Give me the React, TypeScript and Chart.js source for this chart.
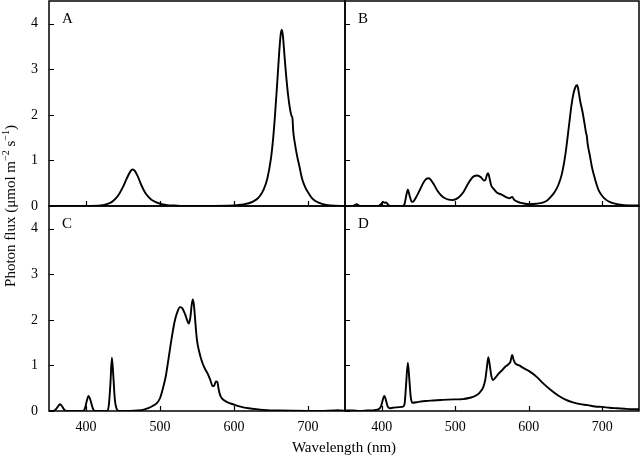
import React, { useEffect, useRef } from "react";
import { Chart, registerables } from "chart.js";

Chart.register(...registerables);

// ---------- data ----------
const wavelengthA = [350, 400, 420, 430, 435, 440, 445, 450, 455, 460, 463, 466, 470, 475, 480, 485, 490, 500, 510, 520, 530, 560, 600, 610, 620, 630, 635, 640, 645, 650, 653, 655, 658, 661, 663, 664.5, 666, 668, 670, 673, 676, 678, 679, 680, 682, 685, 688, 692, 696, 700, 705, 710, 720, 730, 750];
const fluxA = [0, 0, 0.01, 0.05, 0.09, 0.16, 0.27, 0.42, 0.6, 0.76, 0.8, 0.77, 0.65, 0.45, 0.29, 0.19, 0.12, 0.05, 0.02, 0.01, 0, 0, 0.01, 0.03, 0.06, 0.14, 0.22, 0.36, 0.6, 1.05, 1.5, 1.9, 2.6, 3.35, 3.75, 3.87, 3.75, 3.35, 2.95, 2.45, 2.1, 1.97, 1.93, 1.65, 1.4, 1.12, 0.9, 0.6, 0.42, 0.3, 0.18, 0.11, 0.04, 0.01, 0];

const wavelengthB = [350, 360, 363, 366, 369, 372, 395, 399, 402, 404, 406, 409, 412, 428, 431, 433, 435.5, 438, 441, 443, 447, 452, 457, 461, 464, 467, 471, 476, 481, 486, 491, 496, 501, 506, 511, 516, 521, 525, 530, 535, 539, 541, 543, 544.8, 546.5, 549, 552, 557, 563, 570, 574, 577.5, 580, 585, 592, 600, 610, 620, 625, 630, 635, 640, 645, 650, 655, 658, 661, 664, 666, 668, 670, 673, 676, 678, 679, 680, 683, 686, 690, 695, 700, 705, 710, 720, 730, 750];
const fluxB = [0, 0, 0.02, 0.04, 0.01, 0, 0, 0.04, 0.09, 0.07, 0.08, 0.02, 0, 0, 0.04, 0.2, 0.36, 0.22, 0.09, 0.1, 0.2, 0.36, 0.52, 0.6, 0.61, 0.57, 0.47, 0.33, 0.23, 0.17, 0.14, 0.13, 0.15, 0.21, 0.3, 0.45, 0.58, 0.65, 0.67, 0.63, 0.56, 0.57, 0.68, 0.72, 0.62, 0.45, 0.38, 0.29, 0.25, 0.19, 0.17, 0.2, 0.14, 0.09, 0.06, 0.04, 0.05, 0.08, 0.12, 0.2, 0.3, 0.45, 0.7, 1.15, 1.8, 2.2, 2.48, 2.63, 2.65, 2.5, 2.3, 2.08, 1.8, 1.6, 1.54, 1.38, 1.12, 0.85, 0.6, 0.35, 0.22, 0.14, 0.09, 0.04, 0.02, 0.01];

const wavelengthC = [350, 356, 360, 363, 365, 367, 370, 373, 396, 399, 401, 403.5, 406, 409, 412, 429, 431, 433, 435, 437, 439, 442, 445, 460, 470, 478, 485, 490, 495, 500, 504, 508, 512, 516, 520, 524, 527, 530, 534, 537, 539, 541, 543, 544.5, 546, 548, 550, 553, 556, 560, 565, 568, 571, 573, 575.5, 577.5, 579, 581, 584, 590, 600, 610, 620, 630, 640, 660, 700, 720, 735, 740, 745, 750];
const fluxC = [0, 0, 0.05, 0.12, 0.15, 0.12, 0.04, 0, 0, 0.08, 0.22, 0.33, 0.24, 0.07, 0, 0, 0.15, 0.6, 1.17, 0.75, 0.25, 0.03, 0, 0, 0.01, 0.03, 0.07, 0.11, 0.16, 0.28, 0.5, 0.78, 1.2, 1.62, 1.98, 2.2, 2.28, 2.26, 2.12, 1.98, 1.92, 2.05, 2.35, 2.45, 2.3, 1.9, 1.55, 1.3, 1.12, 0.95, 0.8, 0.68, 0.55, 0.55, 0.65, 0.64, 0.5, 0.36, 0.27, 0.2, 0.14, 0.09, 0.06, 0.04, 0.025, 0.01, 0, 0, 0.01, 0.02, 0.01, 0];

const wavelengthD = [350, 360, 370, 380, 390, 396, 399, 401, 403.5, 406, 408, 411, 415, 420, 428, 431, 433, 435.5, 437.5, 439.5, 442, 450, 460, 470, 480, 490, 500, 510, 520, 527, 533, 538, 541, 543, 545, 547, 549, 551.5, 555, 559, 564, 568, 572, 575, 577.5, 579.5, 582, 587, 593, 600, 610, 620, 630, 640, 650, 660, 670, 680, 690, 700, 710, 720, 730, 740, 750];
const fluxD = [0.01, 0.01, 0, 0.01, 0.02, 0.04, 0.1, 0.22, 0.33, 0.22, 0.1, 0.06, 0.07, 0.08, 0.09, 0.15, 0.55, 1.06, 0.7, 0.3, 0.18, 0.2, 0.22, 0.23, 0.24, 0.25, 0.255, 0.26, 0.29, 0.33, 0.4, 0.52, 0.7, 0.95, 1.18, 1.0, 0.78, 0.68, 0.74, 0.82, 0.9, 0.97, 1.02, 1.08, 1.23, 1.12, 1.04, 1.0, 0.94, 0.88, 0.76, 0.6, 0.46, 0.34, 0.25, 0.19, 0.15, 0.13, 0.1, 0.09, 0.07, 0.06, 0.05, 0.04, 0.04];

const xTickValues = [400, 500, 600, 700];
const yTickValues = [0, 1, 2, 3, 4];
const panelLabels = ["A", "B", "C", "D"];
const xAxisTitle = "Wavelength (nm)";

const FONT = '"Liberation Serif", "Times New Roman", serif';
const W = 640;
const H = 457;

type PanelSpec = {
  label: string;
  wl: number[];
  flux: number[];
  showY: boolean;
  showX: boolean;
  padding: { left: number; right: number; top: number; bottom: number };
};

const framePlugin = {
  id: "frame",
  afterDatasetsDraw(chart: any, _args: any, opts: any) {
    const { ctx, chartArea: a, scales } = chart;
    ctx.save();
    ctx.strokeStyle = "#000";
    ctx.lineWidth = 1.5;
    ctx.strokeRect(a.left, a.top, a.right - a.left, a.bottom - a.top);
    ctx.lineWidth = 1.2;
    ctx.beginPath();
    for (const v of xTickValues) {
      const px = Math.round(scales.x.getPixelForValue(v)) + 0.5;
      ctx.moveTo(px, a.bottom);
      ctx.lineTo(px, a.bottom - 5);
    }
    for (const v of yTickValues) {
      const py = Math.round(scales.y.getPixelForValue(v)) + 0.5;
      ctx.moveTo(a.left, py);
      ctx.lineTo(a.left + 5, py);
    }
    ctx.stroke();
    ctx.fillStyle = "#000";
    ctx.font = `15px ${FONT}`;
    ctx.textBaseline = "alphabetic";
    ctx.textAlign = "left";
    ctx.fillText(opts.label, a.left + 13, a.top + 21.5);
    ctx.restore();
  },
};

function zeroPadding(s: any) {
  s.paddingTop = 0;
  s.paddingBottom = 0;
  s.paddingLeft = 0;
  s.paddingRight = 0;
}

function Panel({ spec }: { spec: PanelSpec }) {
  const ref = useRef<HTMLCanvasElement | null>(null);
  useEffect(() => {
    if (!ref.current) return;
    const chart = new Chart(ref.current, {
      type: "line",
      data: {
        datasets: [
          {
            data: spec.wl.map((x, i) => ({ x, y: spec.flux[i] })),
            borderColor: "#000",
            borderWidth: 1.9,
            pointRadius: 0,
            fill: false,
            cubicInterpolationMode: "monotone",
          },
        ],
      },
      options: {
        animation: false,
        responsive: false,
        events: [],
        layout: { padding: spec.padding },
        plugins: {
          legend: { display: false },
          tooltip: { enabled: false },
          frame: { label: spec.label },
        } as any,
        scales: {
          x: {
            type: "linear",
            min: 350,
            max: 750,
            display: true,
            grid: { display: false, drawTicks: false },
            border: { display: false },
            afterBuildTicks: (s: any) => {
              s.ticks = xTickValues.map((v) => ({ value: v }));
            },
            afterFit: (s: any) => {
              s.height = spec.showX ? 30 : 0;
              zeroPadding(s);
            },
            ticks: {
              display: spec.showX,
              color: "#000",
              padding: 8,
              font: { family: FONT, size: 14 },
              maxRotation: 0,
              autoSkip: false,
            },
          },
          y: {
            type: "linear",
            min: 0,
            max: 4.5,
            display: true,
            grid: { display: false, drawTicks: false },
            border: { display: false },
            afterBuildTicks: (s: any) => {
              s.ticks = yTickValues.map((v) => ({ value: v }));
            },
            afterFit: (s: any) => {
              s.width = spec.showY ? 49 : 0;
              zeroPadding(s);
            },
            ticks: {
              display: spec.showY,
              color: "#000",
              padding: 11,
              font: { family: FONT, size: 14 },
            },
          },
        },
      },
      plugins: [framePlugin as any],
    });
    return () => chart.destroy();
  }, [spec]);
  return (
    <canvas
      ref={ref}
      width={W}
      height={H}
      style={{ position: "absolute", left: 0, top: 0, width: W, height: H }}
    />
  );
}

const panels: PanelSpec[] = [
  { label: panelLabels[0], wl: wavelengthA, flux: fluxA, showY: true, showX: false, padding: { left: 0, right: 295, top: 1, bottom: 251 } },
  { label: panelLabels[1], wl: wavelengthB, flux: fluxB, showY: false, showX: false, padding: { left: 345, right: 1, top: 1, bottom: 251 } },
  { label: panelLabels[2], wl: wavelengthC, flux: fluxC, showY: true, showX: true, padding: { left: 0, right: 295, top: 206, bottom: 16 } },
  { label: panelLabels[3], wl: wavelengthD, flux: fluxD, showY: false, showX: true, padding: { left: 345, right: 1, top: 206, bottom: 16 } },
];

export default function App() {
  return (
    <div
      style={{
        position: "fixed",
        left: 0,
        top: 0,
        width: W,
        height: H,
        background: "#fff",
        overflow: "hidden",
        fontFamily: FONT,
        color: "#000",
      }}
    >
      {panels.map((p) => (
        <Panel key={p.label} spec={p} />
      ))}
      <div
        style={{
          position: "absolute",
          left: 10 - 150,
          top: 206 - 10,
          width: 300,
          height: 20,
          lineHeight: "20px",
          fontSize: 15,
          textAlign: "center",
          transform: "rotate(-90deg)",
          whiteSpace: "nowrap",
        }}
      >
        Photon flux (μmol m<sup style={{ fontSize: 10, lineHeight: 0 }}>−2</sup> s<sup style={{ fontSize: 10, lineHeight: 0 }}>−1</sup>)
      </div>
      <div
        style={{
          position: "absolute",
          left: 344 - 100,
          top: 438,
          width: 200,
          lineHeight: "18px",
          fontSize: 15,
          textAlign: "center",
          whiteSpace: "nowrap",
        }}
      >
        {xAxisTitle}
      </div>
    </div>
  );
}
